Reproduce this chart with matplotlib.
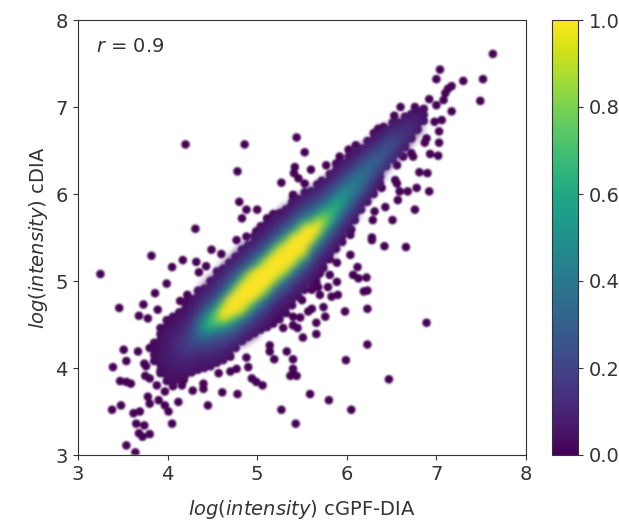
import matplotlib
matplotlib.use("Agg")
import matplotlib.pyplot as plt
import numpy as np

x_ticks = [3, 4, 5, 6, 7, 8]
y_ticks = [3, 4, 5, 6, 7, 8]
cbar_ticks = [0.0, 0.2, 0.4, 0.6, 0.8, 1.0]

# isolated points around the band (density close to zero)
sparse_x = [3.25,3.82,4.17,4.05,3.99,3.86,3.46,3.73,3.68,3.78,3.89,4.14,4.22,4.49,4.32,4.43,4.35,4.60,
 3.51,3.67,3.80,3.54,3.39,3.74,3.76,3.47,3.54,3.59,3.75,3.80,3.88,3.92,4.03,4.16,4.28,4.40,4.40,4.61,4.78,4.45,4.12,5.27,5.43,
 3.48,3.38,3.78,3.80,3.90,3.97,4.01,3.62,3.69,4.05,3.65,3.74,3.68,3.80,3.72,3.54,3.64,
 4.88,4.70,4.90,4.77,4.70,4.57,4.94,4.99,5.06,5.14,5.14,5.19,5.33,5.40,5.40,5.37,5.44,4.06,3.97,4.18,
 6.42,6.66,6.28,6.04,5.89,6.12,6.07,6.13,6.22,5.81,5.89,5.66,5.79,5.61,5.70,5.83,5.90,6.19,6.23,5.74,5.61,5.57,5.98,6.23,5.76,5.48,5.66,6.89,5.40,5.45,5.51,5.66,6.23,5.99,6.47,5.59,5.80,6.05,
 5.70,5.59,5.50,5.40,5.29,5.68,
 7.63,7.04,7.00,7.30,7.52,7.49,7.17,7.13,7.10,7.08,7.17,6.92,7.00,7.06,6.98,7.03,7.03,6.87,6.93,7.02,6.81,6.90,6.54,6.56,6.78,6.92,6.68,6.59,6.57,6.76,6.43,6.31,6.29,6.51,6.28,6.05,6.04,
 6.60,6.53,6.76,5.44,5.53,5.77,5.60,5.42,5.41,5.46,5.53,5.72,5.27,5.40,5.92,6.02,6.10,6.41,6.35,6.74,6.56,6.39,6.82,6.85,6.89,6.63,6.72,
 4.20,4.86,4.78,4.80,4.88,5.00,4.83,4.31,5.11,5.25,4.77,4.99,4.88,5.40,5.37]
sparse_y = [5.08,5.29,5.24,5.16,4.97,4.86,4.69,4.73,4.60,4.57,4.67,4.77,4.84,5.36,5.22,5.17,5.10,5.31,
 4.21,4.19,4.23,4.08,4.01,4.05,4.02,3.85,3.84,3.82,3.91,3.88,3.80,3.94,3.88,3.80,3.74,3.82,3.76,3.72,3.70,3.57,3.61,3.52,3.36,
 3.57,3.52,3.67,3.59,3.63,3.57,3.50,3.48,3.50,3.36,3.36,3.34,3.25,3.24,3.21,3.11,3.03,
 4.12,4.13,4.01,3.99,3.96,3.94,3.88,3.84,3.80,4.26,4.19,4.10,4.19,4.10,3.99,3.91,3.91,3.79,3.73,3.86,
 5.40,5.39,5.47,5.30,5.21,5.16,5.07,5.03,5.04,5.07,4.99,4.99,4.93,4.90,4.84,4.82,4.84,4.88,4.89,4.70,4.68,4.65,4.65,4.68,4.59,4.58,4.52,4.52,4.49,4.46,4.35,4.39,4.27,4.09,3.87,3.70,3.63,3.52,
 5.09,4.99,4.78,4.59,4.46,4.93,
 7.61,7.43,7.32,7.30,7.32,7.07,7.24,7.21,7.16,7.08,6.95,7.09,7.02,6.85,6.83,6.72,6.59,6.59,6.46,6.44,6.25,6.24,6.16,6.12,6.07,6.03,6.03,6.03,5.93,5.82,5.85,5.80,5.70,5.70,5.50,5.59,5.53,
 7.00,6.90,7.00,6.65,6.48,6.33,6.28,6.31,6.24,6.18,6.12,6.15,6.13,5.99,6.43,6.51,6.56,6.77,6.75,6.43,6.33,6.07,6.91,6.97,6.64,6.43,6.47,
 6.57,6.57,6.26,5.91,5.82,5.82,5.72,5.60,5.72,5.78,5.47,5.57,5.51,5.97,5.85]

# dense band: one column of readings per x position, bottom to top, density in percent
core_x = [3.85,3.92,3.99,4.06,4.13,4.20,4.27,4.34,4.41,4.48,4.55,4.62,4.69,4.76,4.83,4.90,4.97,5.04,5.11,5.18,5.25,5.32,
 5.39,5.46,5.53,5.60,5.67,5.74,5.81,5.88,5.95,6.02,6.09,6.16,6.23,6.30,6.37,6.44,6.51,6.58,6.65,6.72,6.79,6.86]
core_y0 = [4.08,3.97,3.85,3.82,3.87,3.92,3.95,3.98,4.00,4.02,4.06,4.09,4.16,4.23,4.31,4.36,4.40,4.44,4.47,4.51,4.56,4.63,
 4.72,4.82,4.90,4.98,5.06,5.15,5.25,5.37,5.45,5.59,5.70,5.82,5.91,6.00,6.13,6.32,6.40,6.47,6.54,6.64,6.74,6.84]
core_density = [
 [2,3,3,2],
 [3,4,5,5,4,4,3,2],
 [2,4,5,6,7,7,7,6,5,3,2],
 [2,4,5,7,9,10,10,9,8,6,4,3],
 [3,5,7,10,12,14,14,12,9,7,5,3],
 [4,6,9,12,15,17,16,14,11,8,5,3,2],
 [4,7,10,14,19,22,24,21,17,13,9,6,4],
 [4,6,9,13,20,27,33,33,27,20,13,9,6,4],
 [4,7,10,15,22,33,47,55,46,32,22,15,10,6],
 [4,7,11,15,22,33,52,68,62,44,28,19,13,9,6],
 [5,8,12,17,24,35,56,78,78,56,35,24,17,12,8,5],
 [4,7,12,18,26,38,64,98,100,82,50,31,22,15,10,6],
 [4,8,15,23,33,52,85,100,100,100,58,36,26,18,11,6],
 [5,10,17,25,37,65,100,100,100,100,68,40,27,18,11,6],
 [7,12,20,30,47,90,100,100,100,100,72,40,26,17,10,6],
 [7,11,18,27,42,78,100,100,100,100,90,44,28,19,12,7],
 [6,10,16,25,36,62,100,100,100,100,100,52,33,23,14,8,4],
 [4,8,13,21,31,50,92,100,100,100,100,68,38,26,16,10,6,3],
 [3,6,10,17,26,40,72,100,100,100,100,92,48,30,20,12,7,4],
 [2,4,7,12,19,30,47,90,100,100,100,100,72,40,26,17,10,6,3],
 [2,3,6,11,18,28,42,80,100,100,100,100,80,42,28,18,11,6],
 [2,4,7,12,19,30,47,90,100,100,100,100,72,40,26,17,10,6],
 [2,5,9,14,23,34,55,100,100,100,100,100,55,34,23,14,9,5],
 [3,6,10,17,26,40,72,100,100,100,100,72,42,27,18,11,6],
 [3,7,12,19,30,46,86,100,100,100,100,66,38,25,16,10,5],
 [3,6,11,17,26,38,58,100,100,100,68,40,28,19,12,7],
 [3,6,10,16,26,36,58,90,100,88,52,36,25,15,9,5],
 [2,5,9,15,25,35,56,78,84,65,42,30,20,12,7],
 [2,6,10,17,26,38,58,70,65,48,34,24,15,8,4],
 [3,7,12,19,29,42,58,64,54,37,26,16,10,5,2],
 [2,5,10,16,25,35,48,56,47,34,24,15,9,5],
 [4,8,14,22,31,41,48,45,34,24,16,10,5],
 [4,9,15,23,32,41,42,36,26,17,10,6],
 [5,10,17,26,35,40,37,28,19,12,7],
 [4,9,15,24,32,36,32,24,15,9,4],
 [3,7,13,21,28,32,27,19,11,5,3],
 [5,9,17,25,30,26,19,11,6],
 [12,19,26,26,19,12,6],
 [10,17,23,23,17,10,5],
 [8,14,19,18,12,6],
 [6,12,16,15,10,4],
 [6,11,14,10,5],
 [6,9,8,4],
 [5,5,3],
]
core_row_step = 0.07
soft_cut = 0.06

xs, ys, cs = list(sparse_x), list(sparse_y), [0.0] * len(sparse_x)
for cx, y0, col in zip(core_x, core_y0, core_density):
    for j, d in enumerate(col):
        xs.append(cx); ys.append(y0 + j * core_row_step); cs.append(d / 100)
xs, ys, cs = np.array(xs), np.array(ys), np.array(cs)
order = np.argsort(cs, kind="stable")
xs, ys, cs = xs[order], ys[order], cs[order]


def soften(sigma):
    """agg filter: gaussian blur of an artist, keeping colours clean at its edges."""
    r = int(3 * sigma) + 1
    k = np.exp(-0.5 * (np.arange(-r, r + 1) / sigma) ** 2)
    k /= k.sum()

    def blur(img):
        img = np.apply_along_axis(lambda m: np.convolve(m, k, mode="same"), 0, img)
        return np.apply_along_axis(lambda m: np.convolve(m, k, mode="same"), 1, img)

    def flt(im, dpi):
        pad = 2 * r
        im = np.pad(im, ((pad, pad), (pad, pad), (0, 0)))
        a = im[..., 3:]
        pm = np.concatenate([im[..., :3] * a, a], axis=2)
        out = np.dstack([blur(pm[..., i]) for i in range(4)])
        out[..., :3] /= np.maximum(out[..., 3:], 1e-4)
        return np.clip(out, 0, 1), -pad, -pad

    return flt


ink = "#333333"
plt.rcParams.update({"font.family": "DejaVu Sans", "mathtext.default": "it", "axes.edgecolor": ink,
                     "xtick.color": ink, "ytick.color": ink, "text.color": ink, "axes.labelcolor": ink})
W, H = 619, 522
fig = plt.figure(figsize=(W / 100, H / 100), dpi=100)
ax = fig.add_axes([78 / W, 1 - 455 / H, 448 / W, 435 / H])
cax = fig.add_axes([552 / W, 1 - 455 / H, 26 / W, 435 / H])
# every point in a dark base layer, the denser ones repeated on top with a smooth blend
sc = ax.scatter(xs, ys, c=np.minimum(cs, soft_cut), s=38, cmap="viridis", vmin=0, vmax=1, linewidths=0, zorder=2)
sc.set_agg_filter(soften(0.7))
hi_mask = cs >= soft_cut
hi = ax.scatter(xs[hi_mask], ys[hi_mask], c=cs[hi_mask], s=38, cmap="viridis", vmin=0, vmax=1, linewidths=0, zorder=3)
hi.set_agg_filter(soften(2.6))
ax.set_xlim(3, 8); ax.set_ylim(3, 8)
ax.set_xticks(x_ticks); ax.set_yticks(y_ticks)
ax.tick_params(labelsize=14, length=3.5, pad=4)
ax.set_xlabel("$log(intensity)$ cGPF-DIA", fontsize=14, labelpad=10)
ax.set_ylabel("$log(intensity)$ cDIA", fontsize=14, labelpad=4)
ax.text(0.04, 0.94, "$r$ = 0.9", transform=ax.transAxes, fontsize=14, va="center", ha="left")
cb = fig.colorbar(sc, cax=cax, ticks=cbar_ticks)
cb.ax.tick_params(labelsize=14, length=3.5, pad=4)
cb.outline.set_edgecolor(ink)
fig.savefig("out.png", dpi=100)
